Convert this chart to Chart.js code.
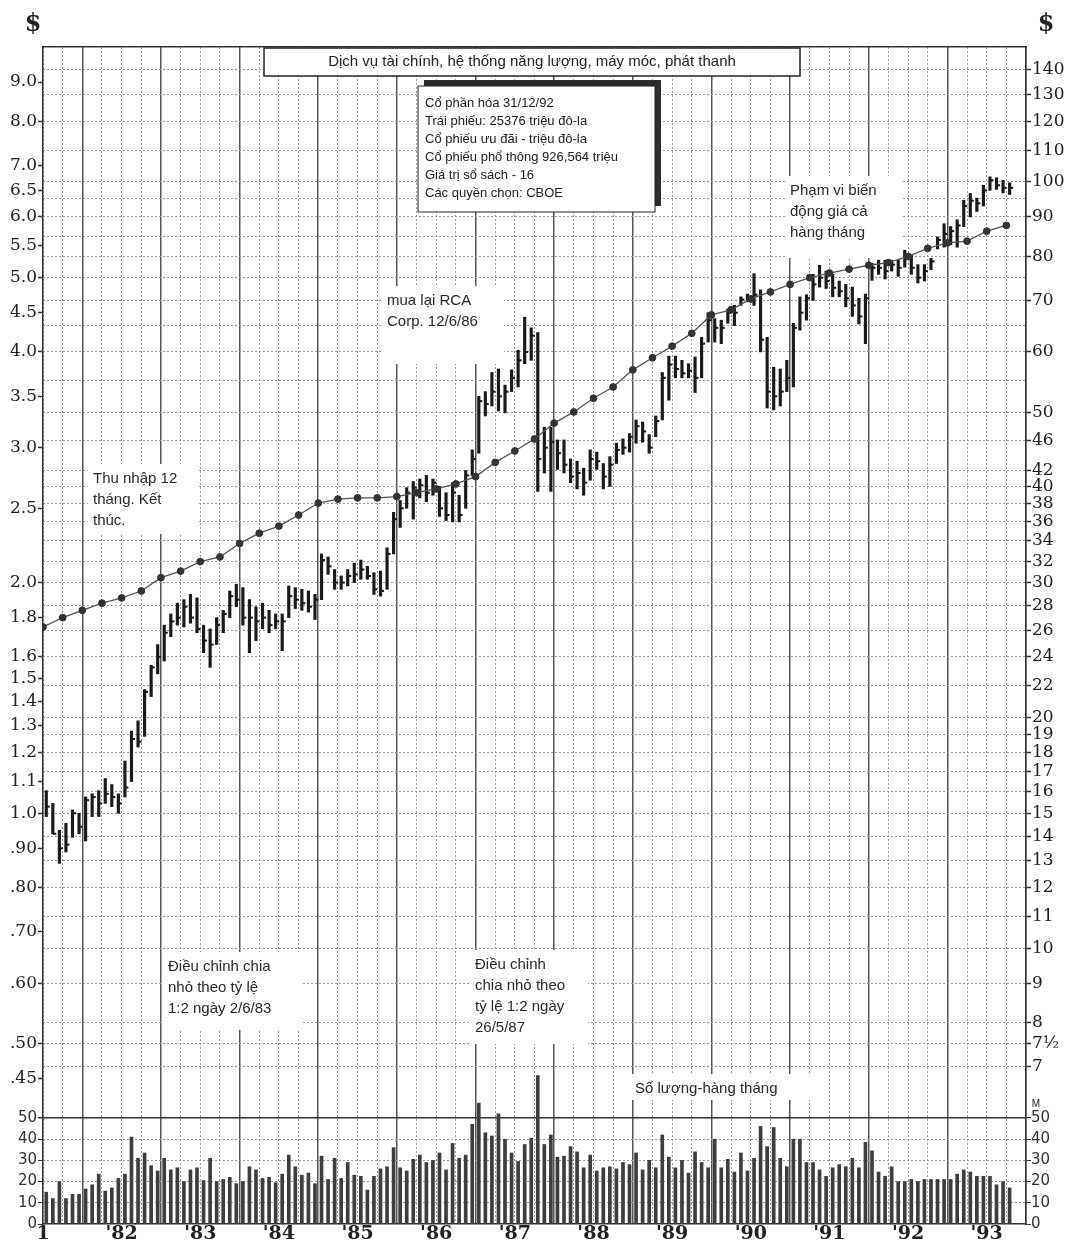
<!DOCTYPE html>
<html>
<head>
<meta charset="utf-8">
<script src="https://cdn.jsdelivr.net/npm/chart.js@4.4.0/dist/chart.umd.min.js"></script>
<style>
  html, body { margin: 0; padding: 0; background: #fff; }
  canvas { display: block; }
</style>
</head>
<body>
<canvas id="chart" width="1070" height="1243"></canvas>
<script>
// monthly bars, Jul 1981 .. Oct 1993 (index 0 = Jul '81)
const yearLabels = ['1', "'82", "'83", "'84", "'85", "'86", "'87", "'88", "'89", "'90", "'91", "'92", "'93"];

const highs = [
  1.07, 1.03, 0.95, 0.97, 1.01, 1.00,
  1.05, 1.06, 1.07, 1.11, 1.09, 1.06, 1.17, 1.28, 1.32, 1.45, 1.56, 1.66,
  1.76, 1.82, 1.88, 1.90, 1.93, 1.91, 1.76, 1.74, 1.80, 1.84, 1.95, 1.99,
  1.97, 1.90, 1.86, 1.88, 1.84, 1.82, 1.82, 1.98, 1.97, 1.96, 1.95, 1.93,
  2.18, 2.16, 2.08, 2.04, 2.08, 2.12, 2.14, 2.10, 2.06, 2.07, 2.22, 2.47,
  2.56, 2.66, 2.71, 2.73, 2.76, 2.73, 2.67, 2.62, 2.70, 2.60, 2.80, 2.98,
  3.50, 3.55, 3.76, 3.80, 3.62, 3.79, 4.02, 4.44, 4.30, 4.24, 3.19, 3.19,
  3.07, 3.07, 2.90, 2.88, 2.82, 2.98, 2.96, 2.86, 2.92, 3.04, 3.08, 3.13,
  3.26, 3.24, 3.12, 3.30, 3.76, 3.95, 3.95, 3.90, 3.86, 3.94, 4.18, 4.50,
  4.42, 4.40, 4.55, 4.60, 4.72, 4.76, 5.06, 4.82, 4.18, 3.82, 3.80, 3.90,
  4.36, 4.72, 4.75, 5.05, 5.19, 5.10, 5.05, 4.95, 4.90, 4.86, 4.70, 4.76,
  5.22, 5.27, 5.27, 5.27, 5.27, 5.43, 5.35, 5.20, 5.20, 5.30, 5.65, 5.88,
  5.83, 5.95, 6.31, 6.44, 6.35, 6.60, 6.77, 6.75, 6.70, 6.65
];

const lows = [
  0.99, 0.94, 0.86, 0.89, 0.93, 0.94,
  0.92, 0.99, 0.99, 1.03, 1.02, 1.00, 1.05, 1.10, 1.22, 1.26, 1.42, 1.52,
  1.58, 1.70, 1.76, 1.75, 1.77, 1.72, 1.62, 1.55, 1.66, 1.72, 1.80, 1.86,
  1.76, 1.62, 1.68, 1.74, 1.72, 1.74, 1.63, 1.80, 1.85, 1.84, 1.83, 1.79,
  1.90, 2.05, 1.96, 1.96, 1.98, 2.00, 2.02, 2.02, 1.93, 1.92, 1.96, 2.18,
  2.36, 2.50, 2.42, 2.58, 2.55, 2.60, 2.44, 2.41, 2.40, 2.40, 2.50, 2.76,
  2.95, 3.30, 3.40, 3.35, 3.33, 3.55, 3.60, 3.86, 3.90, 2.63, 2.78, 2.63,
  2.81, 2.78, 2.70, 2.65, 2.60, 2.72, 2.81, 2.65, 2.67, 2.86, 2.94, 2.96,
  3.04, 3.05, 2.95, 3.10, 3.26, 3.46, 3.70, 3.70, 3.70, 3.54, 3.70, 4.12,
  4.12, 4.10, 4.36, 4.33, 4.60, 4.65, 4.60, 4.00, 3.38, 3.36, 3.40, 3.55,
  3.60, 4.27, 4.40, 4.67, 4.86, 4.84, 4.72, 4.72, 4.58, 4.45, 4.35, 4.10,
  4.96, 5.05, 4.98, 5.10, 5.02, 5.16, 5.05, 4.92, 4.95, 5.12, 5.45, 5.48,
  5.52, 5.48, 5.83, 6.00, 6.10, 6.20, 6.50, 6.52, 6.45, 6.42
];

const closes = [
  1.02, 0.94, 0.90, 0.91, 1.00, 0.96,
  1.04, 1.05, 1.03, 1.06, 1.05, 1.03, 1.08, 1.25, 1.24, 1.44, 1.55, 1.60,
  1.72, 1.78, 1.80, 1.86, 1.80, 1.74, 1.68, 1.66, 1.76, 1.82, 1.92, 1.90,
  1.80, 1.80, 1.78, 1.80, 1.76, 1.78, 1.78, 1.92, 1.90, 1.88, 1.86, 1.90,
  2.14, 2.10, 2.00, 2.00, 2.04, 2.05, 2.08, 2.04, 1.96, 1.95, 2.18, 2.42,
  2.50, 2.62, 2.66, 2.68, 2.62, 2.70, 2.50, 2.45, 2.62, 2.45, 2.76, 2.90,
  3.45, 3.42, 3.55, 3.50, 3.55, 3.70, 3.90, 4.00, 4.20, 2.90, 3.00, 3.05,
  2.95, 2.85, 2.75, 2.78, 2.70, 2.90, 2.88, 2.75, 2.85, 2.98, 3.00, 3.10,
  3.20, 3.15, 3.00, 3.25, 3.70, 3.85, 3.80, 3.75, 3.78, 3.70, 4.10, 4.40,
  4.30, 4.30, 4.50, 4.50, 4.68, 4.70, 4.75, 4.15, 3.55, 3.50, 3.55, 3.70,
  4.30, 4.50, 4.70, 4.90, 5.00, 4.95, 4.85, 4.80, 4.70, 4.60, 4.45, 4.70,
  5.15, 5.15, 5.10, 5.20, 5.15, 5.30, 5.15, 5.00, 5.10, 5.25, 5.60, 5.70,
  5.75, 5.85, 6.20, 6.30, 6.25, 6.50, 6.70, 6.60, 6.55, 6.55
];

// monthly volume, millions
const volumes = [
  15, 12, 20, 12, 14, 14,
  16.5, 18.5, 23.5, 15.5, 17, 21.5, 23.5, 41, 31, 33.5, 27.5, 25,
  31, 25.5, 26.5, 20, 25.5, 26.5, 20.5, 31, 20, 21, 22, 19,
  20, 27, 25.5, 21.5, 22, 19.5, 23.5, 32.5, 27, 23, 24, 19,
  32, 21, 31, 21.5, 29, 23, 22.5, 16, 22.5, 26, 27, 36,
  26.5, 25, 30.5, 32.5, 29, 30, 33.5, 25.5, 38, 31, 32.5, 47,
  57, 43, 41.5, 52, 40, 33.5, 29.5, 37.5, 40.5, 70, 37.5, 42,
  31.5, 32, 36.5, 34, 26.5, 32.5, 25, 26.5, 27, 26, 29, 28,
  33.5, 25.5, 30, 26.5, 42, 31.5, 26.5, 30, 24, 34, 29, 26.5,
  40, 26.5, 30.5, 24.5, 33.5, 25, 31, 46, 36.5, 45.5, 31, 27,
  40, 40, 29, 29, 25.5, 22.5, 26.5, 28, 27, 31, 26.5, 38.5,
  34.5, 24.5, 22.5, 27, 20, 20, 21, 20, 21, 21, 21, 21,
  21, 23.5, 25.5, 24.5, 22.5, 22.5, 22.5, 18.5, 20, 17
];

// 12-month earnings, one point per quarter (start of Jul '81, Oct '81, ...)
const earnings = [
  1.75, 1.80, 1.84, 1.88, 1.91, 1.95, 2.03, 2.07, 2.13, 2.16,
  2.25, 2.32, 2.37, 2.45, 2.54, 2.57, 2.58, 2.58, 2.59, 2.62,
  2.65, 2.69, 2.75, 2.87, 2.97, 3.08, 3.23, 3.34, 3.48, 3.60,
  3.79, 3.93, 4.07, 4.23, 4.47, 4.54, 4.69, 4.79, 4.90, 5.00,
  5.07, 5.13, 5.19, 5.23, 5.33, 5.46, 5.55, 5.58, 5.75, 5.85
];

const leftTicks = [9, 8, 7, 6.5, 6, 5.5, 5, 4.5, 4, 3.5, 3, 2.5, 2, 1.8, 1.6, 1.5, 1.4, 1.3, 1.2, 1.1, 1, 0.9, 0.8, 0.7, 0.6, 0.5, 0.45];
const rightTicks = [140, 130, 120, 110, 100, 90, 80, 70, 60, 50, 46, 42, 40, 38, 36, 34, 32, 30, 28, 26, 24, 22, 20, 19, 18, 17, 16, 15, 14, 13, 12, 11, 10, 9, 8, 7.5, 7];
const rightGridOnly = [95, 85, 75, 65, 55];
const volTicks = [0, 10, 20, 30, 40, 50];

const quarterTicks = [];
for (let m = 0; m <= 150; m += 3) quarterTicks.push(m);

const rangeBars = highs.map((h, i) => ({ x: i + 0.5, y: [lows[i], h] }));
const closeTicks = closes.map((c, i) => ({ x: i + 0.5, y: c }));
const volumeBars = volumes.map((v, i) => ({ x: i + 0.5, y: v }));
const earningsPts = earnings.map((e, i) => ({ x: i * 3, y: e }));

const fixWidth = w => scale => { scale.width = w; };
const fixHeight = h => scale => { scale.height = h; };
// zero-width axis whose labels hang outside: keep its label padding out of the layout
const zeroWidth = scale => { scale.width = 0; scale.paddingTop = 0; scale.paddingBottom = 0; };
const setTicks = list => scale => { scale.ticks = list.map(v => ({ value: v })); };
const isYear = c => c.tick && c.tick.value % 12 === 6;

const SANS = "'Liberation Sans', Arial, sans-serif";
const SERIF = "'DejaVu Serif', serif";
const VOLFONT = { family: "'DejaVu Sans', sans-serif", size: 15 };

const notes = [
  { x: 88, y: 464, w: 110, h: 70, lines: ['Thu nhập 12', 'tháng. Kết', 'thúc.'] },
  { x: 382, y: 286, w: 122, h: 78, lines: ['mua lại RCA', 'Corp. 12/6/86'] },
  { x: 785, y: 176, w: 118, h: 82, lines: ['Phạm vi biến', 'động giá cả', 'hàng tháng'] },
  { x: 163, y: 952, w: 138, h: 78, lines: ['Điều chỉnh chia', 'nhỏ theo tỷ lệ', '1:2 ngày 2/6/83'] },
  { x: 470, y: 950, w: 118, h: 94, lines: ['Điều chỉnh', 'chia nhỏ theo', 'tỷ lệ 1:2 ngày', '26/5/87'] },
  { x: 630, y: 1074, w: 182, h: 26, lines: ['Số lượng-hàng tháng'] }
];

const infoLines = [
  'Cổ phần hóa 31/12/92',
  'Trái phiếu: 25376 triệu đô-la',
  'Cổ phiếu ưu đãi - triệu đô-la',
  'Cổ phiếu phổ thông 926,564 triệu',
  'Giá trị sổ sách - 16',
  'Các quyền chọn: CBOE'
];

const annotations = {
  id: 'annotations',
  beforeDraw(chart) {
    const c = chart.ctx;
    c.save();
    c.fillStyle = '#fff';
    c.fillRect(0, 0, chart.width, chart.height);
    c.restore();
  },
  beforeDatasetsDraw(chart) {
    const c = chart.ctx;
    c.save();
    c.textBaseline = 'middle';

    notes.forEach(n => {
      c.fillStyle = '#fff';
      c.fillRect(n.x, n.y, n.w, n.h);
      c.fillStyle = '#2a2a2a';
      c.font = '15px ' + SANS;
      n.lines.forEach((t, k) => c.fillText(t, n.x + 5, n.y + 15 + k * 21));
    });

    // title box
    c.fillStyle = '#fff';
    c.fillRect(264, 48, 536, 28);
    c.strokeStyle = '#222';
    c.lineWidth = 1.5;
    c.strokeRect(264, 48, 536, 28);
    c.fillStyle = '#222';
    c.font = '15px ' + SANS;
    c.textAlign = 'center';
    c.fillText('Dịch vụ tài chính, hệ thống năng lượng, máy móc, phát thanh', 532, 62);

    // info box with shadow
    c.textAlign = 'left';
    c.fillStyle = '#2b2b2b';
    c.fillRect(424, 80, 237, 126);
    c.fillStyle = '#fff';
    c.fillRect(418, 86, 237, 126);
    c.strokeStyle = '#222';
    c.lineWidth = 1;
    c.strokeRect(418, 86, 237, 126);
    c.fillStyle = '#222';
    c.font = '13px ' + SANS;
    infoLines.forEach((t, k) => c.fillText(t, 425, 103 + k * 18));
    c.restore();
  },
  afterDraw(chart) {
    const c = chart.ctx;
    c.save();
    c.fillStyle = '#222';
    c.textAlign = 'center';
    c.textBaseline = 'middle';
    c.font = 'bold 24px ' + SERIF;
    c.fillText('$', 33, 25);
    c.fillText('$', 1046, 25);
    c.font = '10px ' + SANS;
    c.fillText('M', 1036, 1104);
    c.restore();
  }
};

new Chart(document.getElementById('chart'), {
  type: 'bar',
  data: {
    datasets: [
      {
        type: 'line', label: 'Thu nhập 12 tháng', data: earningsPts,
        xAxisID: 'x', yAxisID: 'y',
        borderColor: '#555', borderWidth: 1.3, tension: 0,
        pointRadius: 3.4, pointBackgroundColor: '#333', pointBorderColor: '#333', pointBorderWidth: 1
      },
      {
        type: 'line', label: 'Đóng cửa', data: closeTicks,
        xAxisID: 'x', yAxisID: 'y', showLine: false,
        pointStyle: 'dash', pointRadius: 3.5,
        borderColor: '#1a1a1a', pointBorderColor: '#1a1a1a', pointBorderWidth: 2
      },
      {
        type: 'bar', label: 'Phạm vi giá', data: rangeBars,
        xAxisID: 'x', yAxisID: 'y', grouped: false,
        backgroundColor: '#1a1a1a', barThickness: 2.5
      },
      {
        type: 'bar', label: 'Số lượng', data: volumeBars,
        xAxisID: 'x', yAxisID: 'v', grouped: false,
        backgroundColor: '#3d3d3d', barThickness: 3
      }
    ]
  },
  options: {
    responsive: false,
    animation: false,
    devicePixelRatio: 1,
    layout: { padding: { top: 47, left: 0, right: 0, bottom: 0 } },
    plugins: { legend: { display: false }, tooltip: { enabled: false } },
    scales: {
      x: {
        type: 'linear', position: 'bottom', min: 0, max: 150, bounds: 'data',
        offset: false,
        afterBuildTicks: setTicks(quarterTicks),
        afterFit: fixHeight(19),
        ticks: {
          autoSkip: false, maxRotation: 0, padding: 1, color: '#222',
          font: { family: SERIF, size: 19, weight: 'bold', lineHeight: 1 },
          callback: v => (v % 12 === 0 ? yearLabels[v / 12] : '')
        },
        grid: {
          offset: false, drawTicks: false,
          color: c => (isYear(c) ? '#555' : '#9a9a9a'),
          lineWidth: c => (isYear(c) ? 1.5 : 1)
        },
        border: { display: true, color: '#333', width: 1.5, dash: c => (c.tick && !isYear(c) ? [2, 2] : []) }
      },
      xTop: {
        type: 'linear', position: 'top', min: 0, max: 150, bounds: 'data',
        afterFit: fixHeight(0),
        ticks: { display: false },
        grid: { drawOnChartArea: false, drawTicks: false },
        border: { display: true, color: '#333', width: 1.5 }
      },
      y: {
        type: 'logarithmic', position: 'left', weight: 1,
        min: 0.291, max: 10, bounds: 'data', beginAtZero: false,
        afterBuildTicks: setTicks(leftTicks),
        afterFit: fixWidth(43),
        ticks: {
          autoSkip: false, padding: 1, color: '#222',
          font: { family: SERIF, size: 17 },
          callback: v => (v >= 1 ? v.toFixed(1) : v.toFixed(2).slice(1))
        },
        grid: { drawOnChartArea: false, drawTicks: true, tickLength: 5, tickColor: '#333', tickWidth: 1.5 },
        border: { display: true, color: '#333', width: 1.5 }
      },
      yR: {
        type: 'logarithmic', position: 'right', weight: 1,
        min: 0.291 * 15, max: 150, bounds: 'data',
        afterBuildTicks: setTicks(rightTicks.concat(rightGridOnly)),
        afterFit: fixWidth(44),
        ticks: {
          autoSkip: false, padding: 1, color: '#222',
          font: { family: SERIF, size: 17 },
          callback: v => (rightTicks.includes(v) ? (v === 7.5 ? '7½' : String(v)) : '')
        },
        grid: {
          color: '#9a9a9a', lineWidth: 1, drawTicks: true, tickLength: 5, tickWidth: 1.5,
          tickColor: c => (c.tick && rightTicks.includes(c.tick.value) ? '#333' : 'rgba(0,0,0,0)')
        },
        border: { display: true, color: '#333', width: 1.5, dash: c => (c.tick ? [2, 2] : []) }
      },
      v: {
        type: 'linear', position: 'left', weight: 0,
        min: 0, max: 555, bounds: 'data', beginAtZero: true,
        afterBuildTicks: setTicks(volTicks),
        afterFit: zeroWidth,
        // mirrored so the labels are not clipped to the zero-width box; pulled back outside the plot
        ticks: { autoSkip: false, mirror: true, crossAlign: 'far', padding: -25, color: '#333', font: VOLFONT },
        grid: {
          drawTicks: true, tickLength: 5, tickColor: '#333',
          color: c => (c.tick && c.tick.value === 50 ? '#333' : (c.tick && c.tick.value === 0 ? 'rgba(0,0,0,0)' : '#9a9a9a')),
          lineWidth: c => (c.tick && c.tick.value === 50 ? 1.5 : 1)
        },
        border: { display: false, dash: c => (c.tick && c.tick.value < 50 ? [2, 2] : []) }
      },
      vR: {
        type: 'linear', position: 'right', weight: 0,
        min: 0, max: 555, bounds: 'data',
        afterBuildTicks: setTicks(volTicks),
        afterFit: zeroWidth,
        ticks: { autoSkip: false, mirror: true, crossAlign: 'far', padding: 24, color: '#333', font: VOLFONT },
        grid: { drawOnChartArea: false, drawTicks: true, tickLength: 5, tickColor: '#333' },
        border: { display: false }
      }
    }
  },
  plugins: [annotations]
});
</script>
</body>
</html>
